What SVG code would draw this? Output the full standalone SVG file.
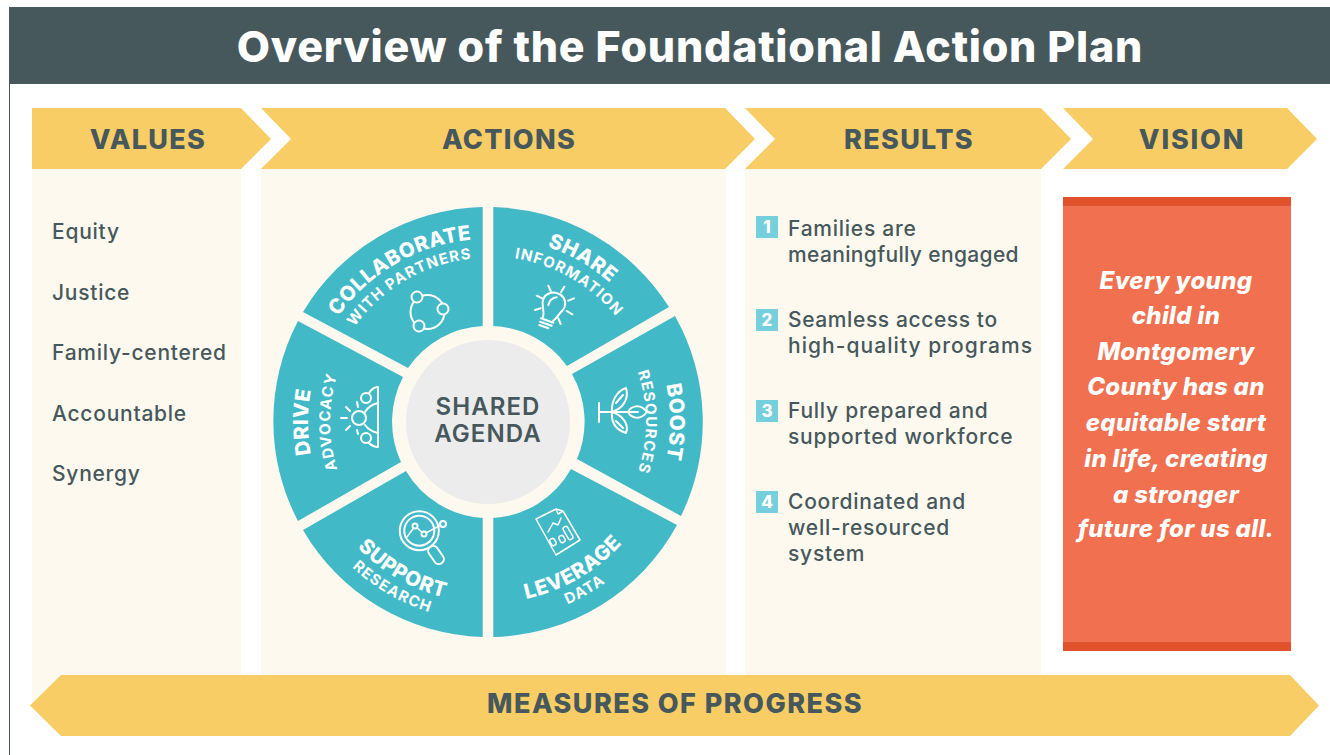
<svg xmlns="http://www.w3.org/2000/svg" width="1330" height="755" viewBox="0 0 1330 755">
<style>
.y{fill:#f8cd65}.c{fill:#fef9ef}.w{fill:#42b9c7}
text{font-family:"Inter","Liberation Sans",sans-serif}
.h{font-weight:800;font-size:27px;fill:#47585c;text-anchor:middle;letter-spacing:1.3px}
.b{font-weight:500;font-size:21px;fill:#47585c;letter-spacing:.75px}
.n{font-weight:800;font-size:17px;fill:#fff;text-anchor:middle}
.s1{font-weight:800;font-size:20.5px;fill:#fff;text-anchor:middle;letter-spacing:.5px}
.s2{font-weight:700;font-size:15px;fill:#fff;text-anchor:middle;letter-spacing:1.2px}
.v{font-weight:800;font-style:italic;font-size:24px;fill:#fff;text-anchor:middle;letter-spacing:.35px}
.i{fill:none;stroke:#fff;stroke-width:2;stroke-linecap:round;stroke-linejoin:round}
.t{fill:#42b9c7;stroke:#fff;stroke-width:2}
</style>
<defs>
<path id="p1" d="M311.2,374.6A183,183 0 0 1 535.4,245.2"/>
<path id="p2" d="M329.6,379.6A164,164 0 0 1 530.4,263.6"/>
<path id="p3" d="M440.1,243.3A185,185 0 0 1 666.7,374.1"/>
<path id="p4" d="M445,261.7A166,166 0 0 1 648.3,379"/>
<path id="p5" d="M616.7,293.3A182,182 0 0 1 616.7,550.7"/>
<path id="p6" d="M599.7,310.3A158,158 0 0 1 599.7,533.7"/>
<path id="p7" d="M441.2,596.8A181,181 0 0 0 662.8,468.8"/>
<path id="p8" d="M436.5,614.2A199,199 0 0 0 680.2,473.5"/>
<path id="p9" d="M313.2,468.8A181,181 0 0 0 534.8,596.8"/>
<path id="p10" d="M295.8,473.5A199,199 0 0 0 539.5,614.2"/>
<path id="p11" d="M360.7,549.3A180,180 0 0 1 360.7,294.700"/>
<path id="p12" d="M376.3,533.7A158,158 0 0 1 376.3,310.3"/>
</defs>
<rect width="1330" height="755" fill="#fff"/>
<rect x="9" y="84" width="1" height="671" fill="#47585c"/>
<g id="title"><rect x="9" y="7" width="1321" height="77" fill="#47585c"/>
<text x="690" y="62" font-weight="800" font-size="43" letter-spacing=".75" fill="#fff" text-anchor="middle">Overview of the Foundational Action Plan</text></g>

<g id="values">
<rect class="c" x="32" y="160" width="209" height="545"/>
<path class="y" d="M32,108H241L271,139L241,169H32Z"/>
<text class="h" x="148" y="149">VALUES</text>
<text class="b" x="52" y="239">Equity</text>
<text class="b" x="52" y="300">Justice</text>
<text class="b" x="52" y="360">Family-centered</text>
<text class="b" x="52" y="421">Accountable</text>
<text class="b" x="52" y="481">Synergy</text>
</g>
<g id="actions">
<rect class="c" x="261" y="160" width="465" height="520"/>
<path class="y" d="M261,108H725L755,139L725,169H261L291,139Z"/>
<text class="h" x="509" y="149">ACTIONS</text>
</g>
<g id="results">
<rect class="c" x="745" y="160" width="296" height="520"/>
<path class="y" d="M745,108H1041L1071,139L1041,169H745L775,139Z"/>
<text class="h" x="909" y="149">RESULTS</text>
<g fill="#75cfdc"><rect x="756" y="216" width="22" height="22"/><rect x="756" y="309" width="22" height="22"/><rect x="756" y="400" width="22" height="22"/><rect x="756" y="491" width="22" height="22"/></g>
<text class="n" x="767" y="233">1</text><text class="n" x="767" y="326">2</text><text class="n" x="767" y="417">3</text><text class="n" x="767" y="508">4</text>
<text class="b" x="788" y="236">Families are</text><text class="b" x="788" y="262" style="letter-spacing:.35px">meaningfully engaged</text>
<text class="b" x="788" y="327" style="letter-spacing:.6px">Seamless access to</text><text class="b" x="788" y="353" style="letter-spacing:1.05px">high-quality programs</text>
<text class="b" x="788" y="418">Fully prepared and</text><text class="b" x="788" y="444">supported workforce</text>
<text class="b" x="788" y="509">Coordinated and</text><text class="b" x="788" y="535">well-resourced</text><text class="b" x="788" y="561">system</text>
</g>
<g id="vision">
<path class="y" d="M1063,108H1287L1317,139L1287,169H1063L1093,139Z"/>
<text class="h" x="1192" y="149" style="letter-spacing:1.8px">VISION</text>
<rect x="1063" y="197" width="228" height="454" fill="#e0512c"/>
<rect x="1063" y="206" width="228" height="436" fill="#f1704f"/>
<text class="v" x="1176" y="289">Every young</text>
<text class="v" x="1176" y="324">child in</text>
<text class="v" x="1176" y="360">Montgomery</text>
<text class="v" x="1176" y="395">County has an</text>
<text class="v" x="1176" y="431">equitable start</text>
<text class="v" x="1176" y="467">in life, creating</text>
<text class="v" x="1176" y="503">a stronger</text>
<text class="v" x="1176" y="537">future for us all.</text>
</g>
<g id="progress">
<path class="y" d="M61,675H1290L1319,705.500L1290,736H61L30,705.500Z"/>
<text class="h" x="675" y="713" style="letter-spacing:1.45px">MEASURES OF PROGRESS</text>
</g>

<g id="collaborate">
<path class="w" d="M303,312A215,215 0 0 1 482.700,207V326A96,96 0 0 0 408,368Z"/>
<text class="s1"><textPath href="#p1" startOffset="50%">COLLABORATE</textPath></text>
<text class="s2"><textPath href="#p2" startOffset="50%">WITH PARTNERS</textPath></text>
<circle class="i" cx="427.500" cy="312" r="17"/>
<circle class="t" cx="417" cy="297" r="5.500"/><circle class="t" cx="443" cy="309" r="5.500"/><circle class="t" cx="419" cy="326" r="5.500"/>
</g>
<g id="share">
<path class="w" d="M493.300,207A215,215 0 0 1 669,307L567,366A96,96 0 0 0 493.300,326Z"/>
<text class="s1"><textPath href="#p3" startOffset="50%">SHARE</textPath></text>
<text class="s2"><textPath href="#p4" startOffset="50%">INFORMATION</textPath></text>
<path class="i" d="M543,317C545,310 541,306 543,300C545,293 553,291 559,294C566,297 567,306 562,311C558,315 557,318 553,321M548.300,305Q550,298 556.700,297.300M541,318.300L553.300,322.700M540,321.700L551.700,325.700M539.300,325L548.300,328.300M548.300,285.700L550.700,291M564.300,286.700L561,292.300M536.700,295.700L542.300,298.300M574,298.300L568.300,300.700M535,310L540.700,308.300M572.300,314.300L566.700,311M560.700,324L558.300,318.300"/>
</g>
<g id="boost">
<path class="w" d="M675,316A215,215 0 0 1 681,516L577,459A96,96 0 0 0 572,374Z"/>
<text class="s1"><textPath href="#p5" startOffset="50%">BOOST</textPath></text>
<text class="s2"><textPath href="#p6" startOffset="50%">RESOURCES</textPath></text>
<path class="i" d="M599,403V422M599,412H638M628,412C631,406 640,403 647,412C640,421 631,418 628,412ZM612,412C611,401 617,391 626,388C629,398 624,408 612,412ZM612,412C611,423 617,430 626,433C629,425 624,416 612,412ZM616,403L623,395M616,421L623,428"/>
</g>
<g id="leverage">
<path class="w" d="M677,525A215,215 0 0 1 493.300,637V518A96,96 0 0 0 571,469Z"/>
<text class="s1"><textPath href="#p7" startOffset="50%">LEVERAGE</textPath></text>
<text class="s2"><textPath href="#p8" startOffset="50%">DATA</textPath></text>
<path class="i" style="stroke-width:1.500" d="M536,519L556,509L563,511L580,540L556,555ZM556,509L558,514L563,511M548,532L553,523L558,525L561,518"/>
<g class="i" style="stroke-width:1.500"><rect x="-2.500" y="-3.500" width="5" height="7" rx="2" transform="translate(553,542) rotate(-30)"/><rect x="-2.500" y="-3.500" width="5" height="7" rx="2" transform="translate(562,539) rotate(-30)"/><rect x="-2.500" y="-7" width="5" height="14" rx="2" transform="translate(568,533) rotate(-30)"/></g>
</g>
<g id="support">
<path class="w" d="M482.700,637A215,215 0 0 1 303,530L406,471A96,96 0 0 0 482.700,518Z"/>
<text class="s1"><textPath href="#p9" startOffset="50%">SUPPORT</textPath></text>
<text class="s2"><textPath href="#p10" startOffset="50%">RESEARCH</textPath></text>
<circle class="i" cx="419.300" cy="530.700" r="19.500"/><circle class="i" cx="419.300" cy="530.700" r="15"/>
<path class="i" style="stroke-width:1.500" d="M407,537L415,526L424,534L439,526"/>
<circle class="t" cx="415" cy="526" r="2.500"/><circle class="t" cx="424" cy="534" r="2.500"/><circle class="t" cx="443" cy="524" r="3"/>
<rect class="i" x="-5" y="-10" width="10" height="20" rx="5" transform="translate(436,555) rotate(-35)"/>
</g>
<g id="drive">
<path class="w" d="M298,521A215,215 0 0 1 298,321L403,377A96,96 0 0 0 401,462Z"/>
<text class="s1"><textPath href="#p11" startOffset="50%">DRIVE</textPath></text>
<text class="s2"><textPath href="#p12" startOffset="50%">ADVOCACY</textPath></text>
<path class="i" d="M378,387V447M378,387C374,387 371,390 369,393M378,403C373,404 368,407 365,412M378,433C373,432 368,429 365,425M378,447C374,447 371,445 369,443M341,418H347M346,407L350,411M346,430L350,426M357,402L358,407M357,430L358,434"/>
<circle class="i" cx="359" cy="418" r="7"/><circle class="i" cx="366" cy="398" r="5"/><circle class="i" cx="366" cy="438" r="5"/>
</g>
<g id="agenda">
<circle cx="488" cy="422" r="82" fill="#ececec"/>
<text x="488" y="415" font-weight="600" font-size="24" letter-spacing="1.1" fill="#47585c" text-anchor="middle">SHARED</text>
<text x="488" y="442" font-weight="600" font-size="24" letter-spacing="1.1" fill="#47585c" text-anchor="middle">AGENDA</text>
</g>
</svg>
